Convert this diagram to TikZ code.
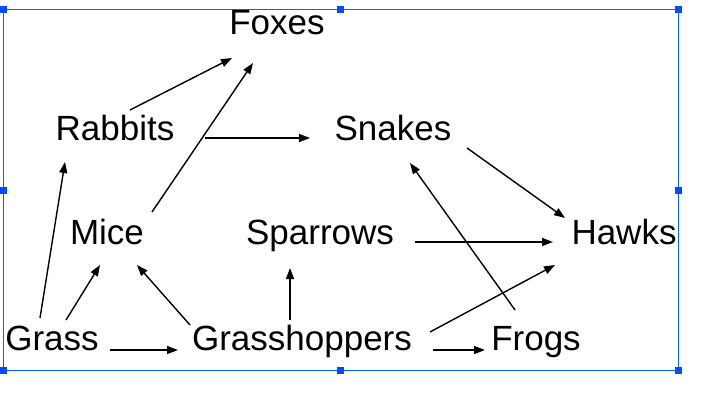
\documentclass[tikz,border=0pt]{standalone}
\usepackage{fontspec}
\setmainfont{Liberation Sans}
\usetikzlibrary{arrows.meta,calc}
\begin{document}
\begin{tikzpicture}[x=1pt,y=-1pt,
  sp/.style={font=\fontsize{35}{40}\selectfont, inner sep=6pt, text height=0.72em, text depth=0.2em},
  ar/.style={-{Triangle[length=11pt,width=8pt]}, line width=1.4pt},
  handle/.style={fill=blue!70!cyan, draw=none, minimum size=7pt, inner sep=0pt}]
\useasboundingbox (0,0) rectangle (708,406);
\fill[white] (0,0) rectangle (708,406);
\draw[blue!60!cyan, line width=1pt] (3,10) rectangle (678,370);
\foreach \x/\y [count=\i] in {3/10,340/10,678/10,3/190,678/190,3/370,340/370,678/370}
  \node[handle] (h\i) at (\x,\y) {};
\node[sp] (fox) at (277,32) {Foxes};
\node[sp] (rab) at (115,138) {Rabbits};
\node[sp] (sna) at (393,138) {Snakes};
\node[sp] (mic) at (107,242) {Mice};
\node[sp] (spa) at (320,242) {Sparrows};
\node[sp] (haw) at (624,242) {Hawks};
\node[sp] (gra) at (52,348) {Grass};
\node[sp] (grh) at (302,348) {Grasshoppers};
\node[sp] (fro) at (536,348) {Frogs};
\draw[ar] ($(rab.center)+(15,-28)$) -- ($(fox.center)+(-45,26)$);
\draw[ar] ($(mic.center)+(45,-30)$) -- ($(fox.center)+(-24,31)$);
\draw[ar] ($(rab.center)+(90,0)$) -- ($(sna.center)+(-83,0)$);
\draw[ar] ($(sna.center)+(74,10)$) -- ($(haw.center)+(-59,-24)$);
\draw[ar] ($(spa.center)+(95,0)$) -- ($(haw.center)+(-71,0)$);
\draw[ar] ($(gra.center)+(-12,-30)$) -- ($(rab.center)+(-50,24)$);
\draw[ar] ($(gra.center)+(14,-28)$) -- ($(mic.center)+(-7,23)$);
\draw[ar] ($(grh.center)+(-112,-23)$) -- ($(mic.center)+(30,23)$);
\draw[ar] ($(grh.center)+(-12,-28)$) -- ($(spa.center)+(-30,26)$);
\draw[ar] ($(gra.center)+(58,2)$) -- ($(grh.center)+(-124,2)$);
\draw[ar] ($(grh.center)+(131,2)$) -- ($(fro.center)+(-51,2)$);
\draw[ar] ($(grh.center)+(128,-16)$) -- ($(haw.center)+(-69,23)$);
\draw[ar] ($(fro.center)+(-21,-38)$) -- ($(sna.center)+(17,25)$);
\end{tikzpicture}
\end{document}
